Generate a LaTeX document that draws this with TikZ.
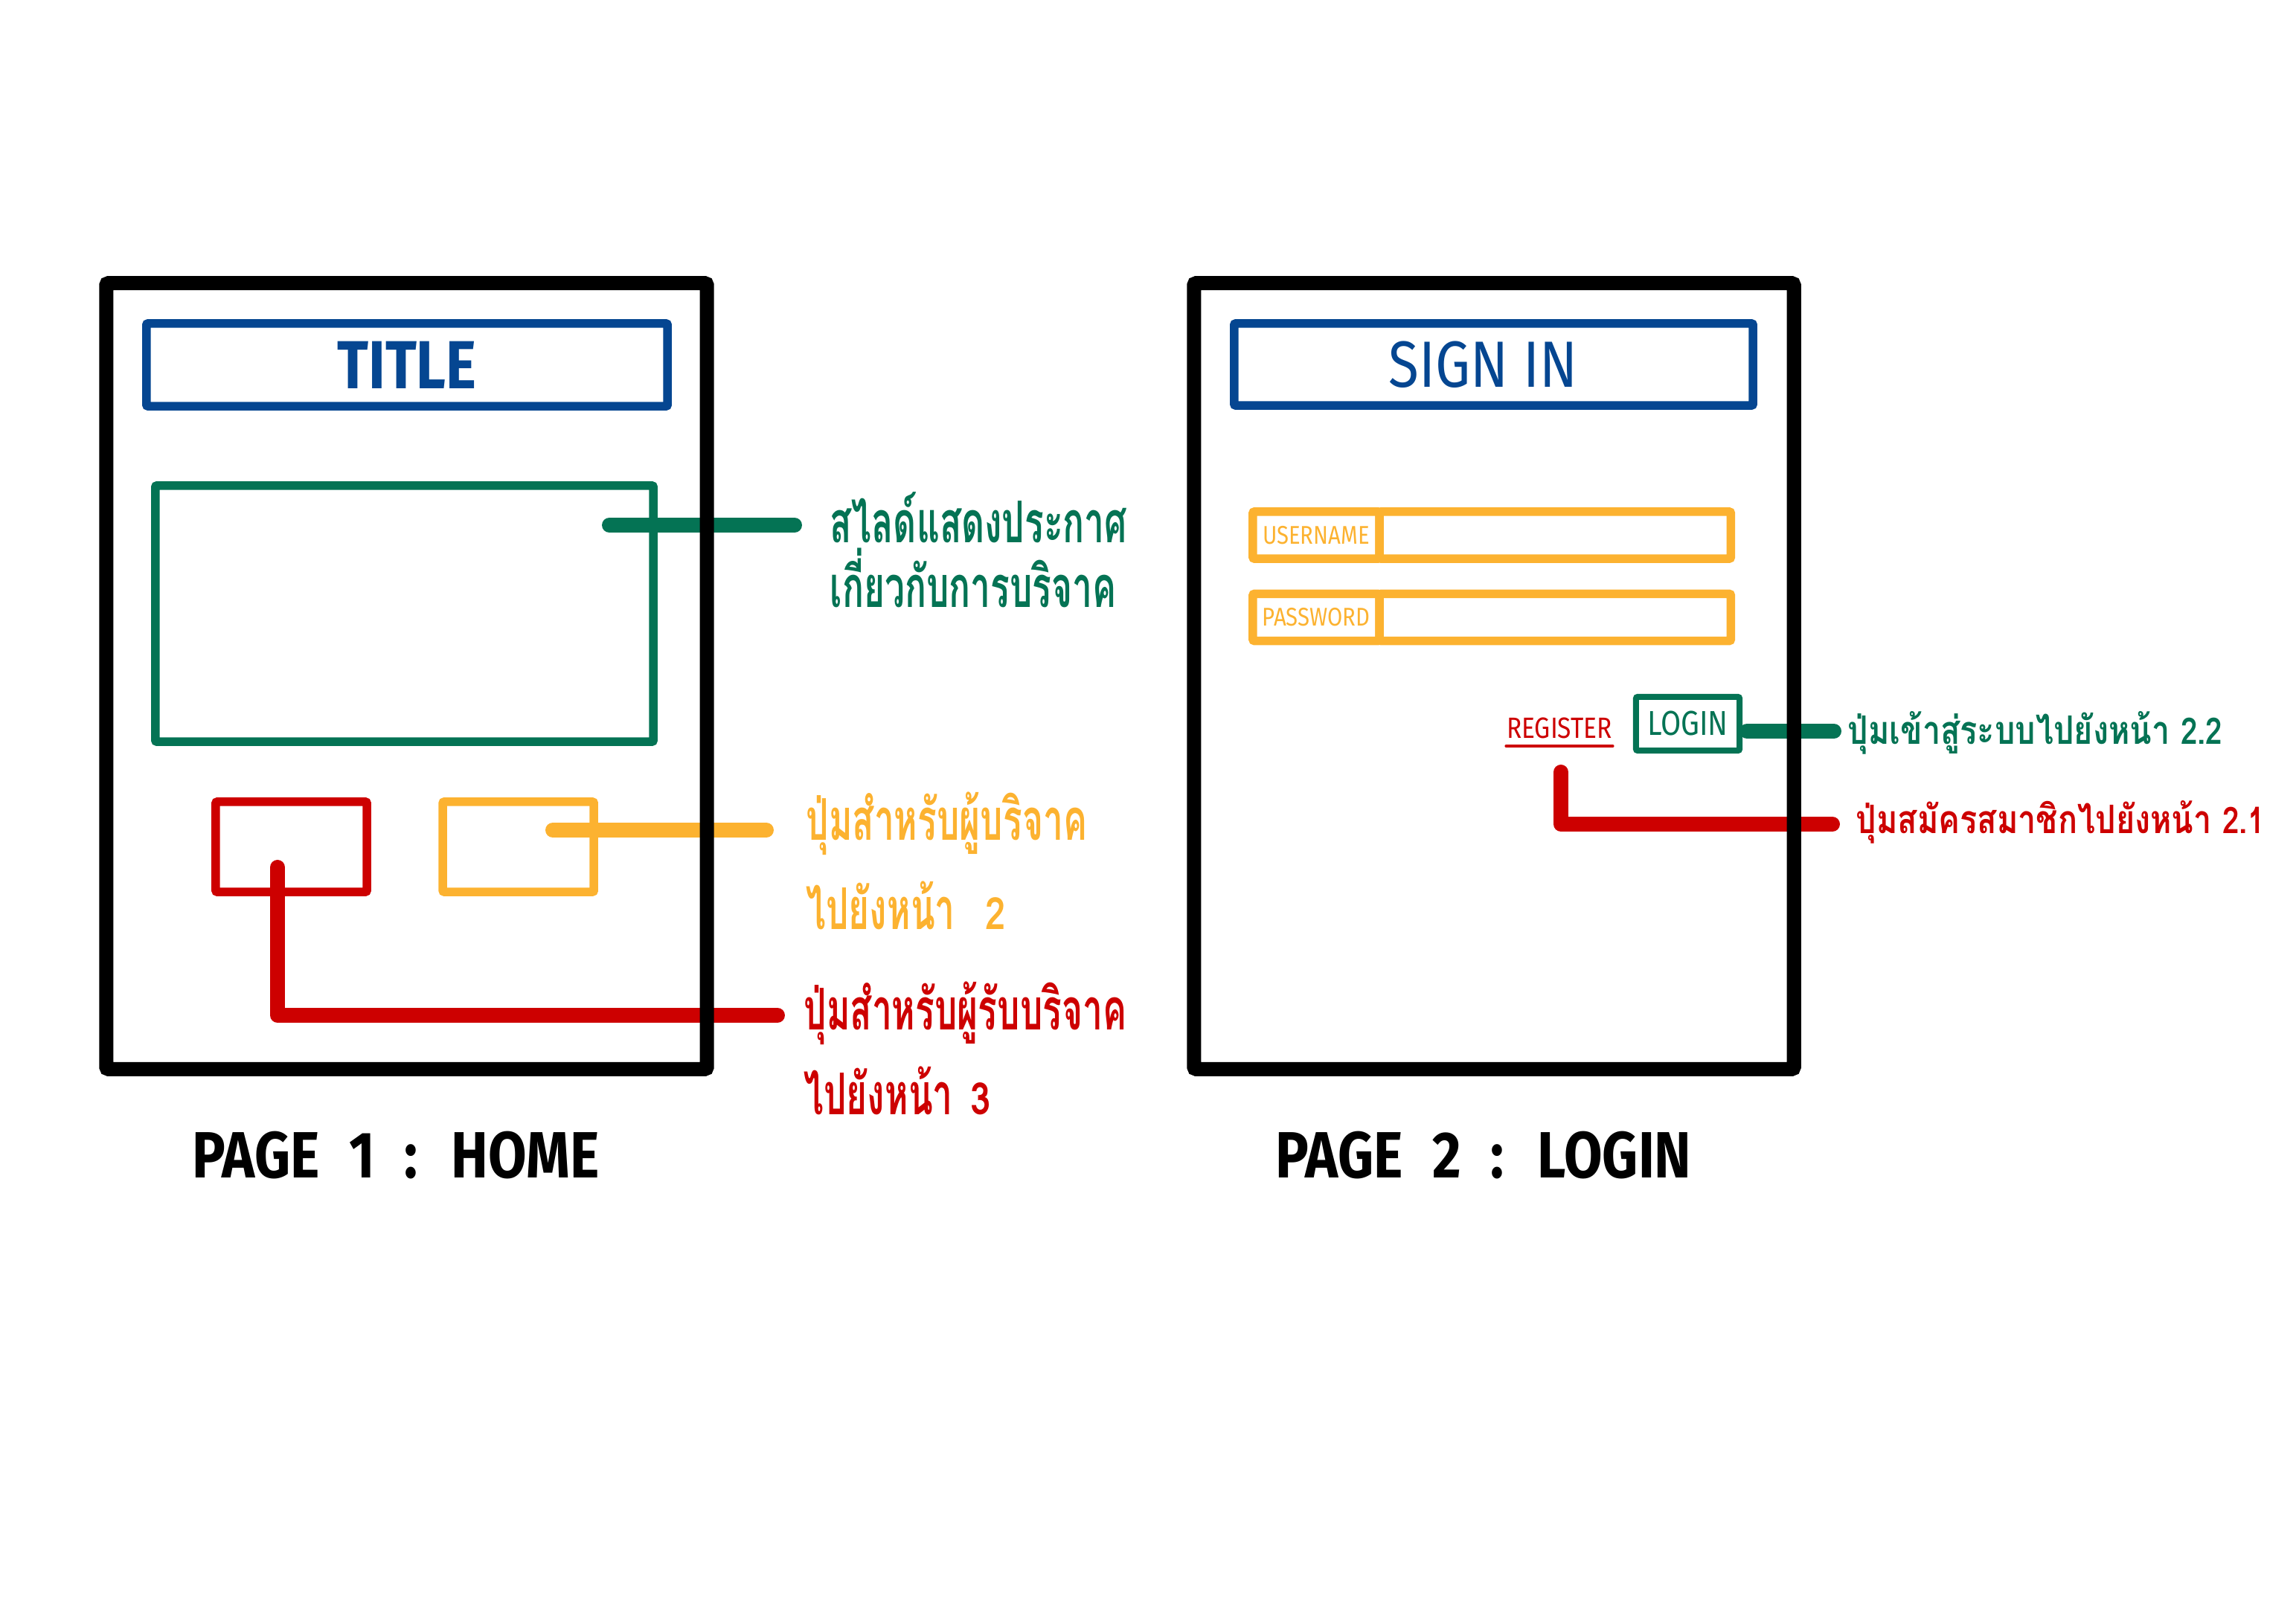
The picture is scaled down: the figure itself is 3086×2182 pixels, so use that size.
\documentclass[tikz,border=0pt]{standalone}
\usepackage{fontspec}
\newfontfamily\handfont{Fira Sans}[FakeStretch=0.85]
\newfontfamily\thaifont[Script=Thai, FakeStretch=0.62]{Loma}
\newfontfamily\thaiwide[Script=Thai, FakeStretch=0.82]{Loma}
\usetikzlibrary{positioning}
\definecolor{wfblue}{RGB}{5,70,145}
\definecolor{wfgreen}{RGB}{4,115,84}
\definecolor{wfyellow}{RGB}{252,178,48}
\definecolor{wfred}{RGB}{205,0,0}
\newcommand{\pagenum}[2]{{\thaiwide\fontsize{#1}{#1}\selectfont #2}}
\newcommand{\widespaces}{\spaceskip=0.45em\relax}

\begin{document}
\begin{tikzpicture}[x=0.01cm, y=-0.01cm,
    box/.style={draw=#1, text=#1, line width=0.115cm, rounded corners=0.02cm, inner sep=0pt, outer sep=0pt},
    page/.style={draw=black, line width=0.19cm, rounded corners=0.03cm, minimum width=8.07cm, minimum height=10.56cm},
    wire/.style={draw=#1, line width=0.2cm, line cap=round, line join=round},
    note/.style={text=#1, anchor=base west, inner sep=0pt, align=left},
    pagelabel/.style={anchor=base, inner sep=0pt, font=\handfont\bfseries\fontsize{25}{25}\selectfont}]
    \useasboundingbox (0,0) rectangle (3086,2182);

    \node[box=wfblue, minimum width=7cm, minimum height=1.11cm, font=\handfont\bfseries\fontsize{26}{26}\selectfont] (title) at (547,490.5) {TITLE};
    \node[box=wfgreen, minimum width=6.69cm, minimum height=3.44cm] (slide) at (543.5,825) {};
    \node[box=wfred, minimum width=2.03cm, minimum height=1.21cm] (recvbtn) at (391.5,1138.5) {};
    \node[box=wfyellow, right=1.02cm of recvbtn, minimum width=2.03cm, minimum height=1.21cm] (donorbtn) {};

    \node[box=wfblue, minimum width=6.97cm, minimum height=1.1cm, font=\handfont\fontsize{25}{25}\selectfont] (signin) at (2007.5,490) {SIGN IN\kern0.28cm};
    \foreach \n/\t/\y in {user/USERNAME/719.5, pass/PASSWORD/830} {
        \node[box=wfyellow, minimum width=1.7cm, minimum height=0.63cm, font=\handfont\fontsize{9.8}{9.8}\selectfont] (\n lbl) at (1769,\y) {\t};
        \node[box=wfyellow, right=0pt of \n lbl, minimum width=4.72cm, minimum height=0.63cm] (\n box) {};
    }
    \node[box=wfgreen, line width=0.08cm, minimum width=1.39cm, minimum height=0.72cm, font=\handfont\fontsize{13.2}{13.2}\selectfont] (loginbtn) at (2268.5,973) {LOGIN};
    \node[text=wfred, inner sep=0pt, anchor=base, font=\handfont\fontsize{11.2}{11.2}\selectfont] (regbtn) at (2096,992) {REGISTER};
    \draw[wfred, line width=0.04cm, line cap=round] ([yshift=-0.11cm]regbtn.base west) -- ([yshift=-0.11cm]regbtn.base east);

    \node[note=wfgreen, font=\thaifont\bfseries\fontsize{22}{24.75}\selectfont] (slidenote) at (1115,817) {สไลด์แสดงประกาศ\\เกี่ยวกับการบริจาค};
    \node[note=wfyellow, font=\thaifont\bfseries\fontsize{22}{34.1}\selectfont] (donornote) at (1083,1249) {ปุ่มสำหรับผู้บริจาค\\ไปยังหน้า \hspace{0.25cm}\pagenum{17}{2}};
    \node[note=wfred, font=\thaifont\bfseries\fontsize{22}{32.4}\selectfont] (recvnote) at (1080,1498) {ปุ่มสำหรับผู้รับบริจาค\\ไปยังหน้า \hspace{0.08cm}\pagenum{17}{3}};
    \node[note=wfgreen, font=\thaiwide\bfseries\fontsize{15}{15}\selectfont] (loginnote) at (2483,1001) {ปุ่มเข้าสู่ระบบไปยังหน้า \pagenum{14}{2.2}};
    \node[note=wfred, font=\thaiwide\bfseries\fontsize{15}{15}\selectfont] (regnote) at (2494,1120) {ปุ่มสมัครสมาชิกไปยังหน้า \pagenum{14}{2.1}};

    \coordinate (slidetip) at (819,706);
    \coordinate (donortip) at (743,1116);
    \coordinate (recvtip) at (373,1166);
    \coordinate (regtip) at (2098,1038);
    \draw[wire=wfgreen] (slidetip) -- ([xshift=-0.47cm]slidetip -| slidenote.west);
    \draw[wire=wfyellow] (donortip) -- ([xshift=-0.53cm]donortip -| donornote.west);
    \draw[wire=wfred] (recvtip) |- ([xshift=-0.35cm, yshift=1.33cm]recvnote.base west);
    \draw[wire=wfgreen] ([xshift=0.1cm, yshift=-0.1cm]loginbtn.east) -- ([xshift=-0.18cm, yshift=-0.1cm]loginbtn.east -| loginnote.west);
    \draw[wire=wfred] (regtip) |- ([xshift=-0.31cm, yshift=0.12cm]regnote.base west);

    \node[page] (home) at (546.5,909) {};
    \node[page, minimum width=8.06cm] (login) at (2008,909) {};
    \node[pagelabel] (homelabel) at (532,1583) {\widespaces PAGE 1 : HOME};
    \node[pagelabel] (loginlabel) at (1994,1583) {\widespaces PAGE 2 : LOGIN};
\end{tikzpicture}
\end{document}
